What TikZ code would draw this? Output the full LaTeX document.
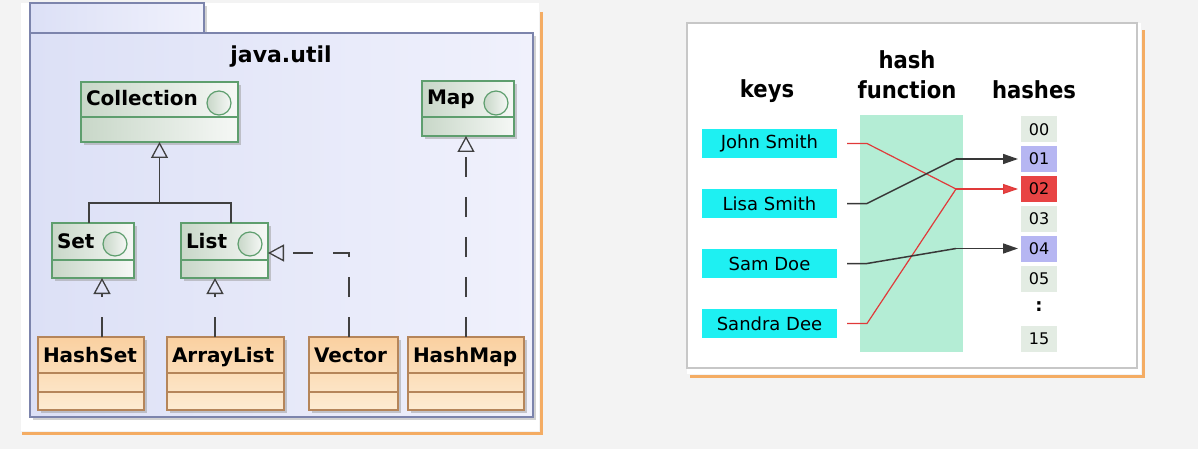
\documentclass[tikz,border=0pt]{standalone}
\usepackage{fontspec}
\setmainfont{DejaVu Sans}
\newfontfamily\hdrfont[FakeStretch=0.9]{DejaVu Sans}
\usetikzlibrary{arrows.meta,shadows,calc}
\definecolor{bgc}{HTML}{F3F3F3}
\definecolor{pkgb}{HTML}{7C84AC}
\definecolor{pkgL}{HTML}{DCE0F6}
\definecolor{pkgR}{HTML}{F0F1FC}
\definecolor{grb}{HTML}{5E9E6E}
\definecolor{grL}{HTML}{C8D7C8}
\definecolor{grR}{HTML}{F6F8F6}
\definecolor{orb}{HTML}{B5855A}
\definecolor{orT}{HTML}{FAD0A0}
\definecolor{orB}{HTML}{FDEBD2}
\definecolor{lnc}{HTML}{404040}
\definecolor{shad}{HTML}{F5A04A}
\definecolor{keyc}{HTML}{1EF0F2}
\definecolor{mint}{HTML}{B4EDD5}
\definecolor{hgray}{HTML}{E3ECE3}
\definecolor{hlav}{HTML}{B6B6F2}
\definecolor{hred}{HTML}{E84444}
\definecolor{rline}{HTML}{E03A3A}
\definecolor{kline}{HTML}{383838}
\begin{document}
\begin{tikzpicture}[x=1pt,y=-1pt,
  every node/.style={outer sep=0pt},
  pkg/.style={draw=pkgb, line width=1.4pt, left color=pkgL, right color=pkgR},
  ibox/.style={draw=grb, line width=1.3pt, left color=grL, right color=grR, inner sep=0pt,
     drop shadow={shadow xshift=3pt, shadow yshift=-3pt, fill=black!40, opacity=0.5}},
  cbox/.style={draw=orb, line width=1.3pt, top color=orT, bottom color=orB, inner sep=0pt,
     minimum height=73pt,
     drop shadow={shadow xshift=3pt, shadow yshift=-3pt, fill=black!40, opacity=0.5}},
  circ/.style={circle, draw=grb, line width=1.2pt, left color=grL, right color=grR,
     minimum size=24pt, inner sep=0pt},
  cls/.style={font=\bfseries\fontsize{20}{22}\selectfont, inner sep=0pt, anchor=base west},
  ttl/.style={font=\bfseries\fontsize{22}{26}\selectfont, inner sep=0pt, anchor=base},
  gen/.style={draw=lnc, line width=1.3pt, -{Triangle[open, length=16pt, width=17pt, line width=1.3pt]}},
  real/.style={gen, dash pattern=on 20pt off 20pt},
  hdr/.style={font=\hdrfont\bfseries\fontsize{23.5}{26}\selectfont, inner sep=0pt, anchor=base},
  key/.style={fill=keyc, minimum width=135pt, minimum height=29pt, inner sep=0pt,
     font=\fontsize{18}{20}\selectfont},
  hb/.style={minimum width=36pt, minimum height=26pt, inner sep=0pt,
     font=\fontsize{16}{18}\selectfont},
  rl/.style={draw=rline, line width=1.2pt},
  kl/.style={draw=kline, line width=1.5pt},
  tip/.style={-{Triangle[length=15pt, width=10pt]}, shorten >=3pt}
]
\useasboundingbox (0,0) rectangle (1198,449);
\fill[bgc] (0,0) rectangle (1198,449);

% ---------- left card ----------
\fill[white] (21,3) rectangle (539,431);
\draw[shad, line width=3pt, opacity=0.85] (541,12) -- (541,433) -- (22,433);

% package
\path[pkg, drop shadow={shadow xshift=3pt, shadow yshift=-3pt, fill=black!35, opacity=0.5}] (30,3) rectangle (204,33);
\path[pkg, drop shadow={shadow xshift=3pt, shadow yshift=-3pt, fill=black!35, opacity=0.5}] (30,33) rectangle (533,417);
\node[ttl] (jt) at (281,63) {java.util};

% interfaces
\node[ibox, minimum width=157pt, minimum height=60pt] (coll) at (159.5,112) {};
\node[ibox, minimum width=92pt, minimum height=55pt] (map) at (468,108.5) {};
\node[ibox, minimum width=82pt, minimum height=55pt] (set) at (93,250.5) {};
\node[ibox, minimum width=87pt, minimum height=55pt] (list) at (224.5,250.5) {};
\draw[grb, line width=1.3pt] ($(coll.north west)+(0,35)$) -- ($(coll.north east)+(0,35)$);
\draw[grb, line width=1.3pt] ($(map.north west)+(0,36)$) -- ($(map.north east)+(0,36)$);
\draw[grb, line width=1.3pt] ($(set.north west)+(0,37)$) -- ($(set.north east)+(0,37)$);
\draw[grb, line width=1.3pt] ($(list.north west)+(0,37)$) -- ($(list.north east)+(0,37)$);
\node[cls] (tcoll) at ($(coll.north west)+(5,24)$) {Collection};
\node[cls] (tmap) at ($(map.north west)+(5,24)$) {Map};
\node[cls] (tset) at ($(set.north west)+(5,25)$) {Set};
\node[cls] (tlist) at ($(list.north west)+(5,25)$) {List};
\node[circ] (ccoll) at ($(coll.north east)+(-19,21)$) {};
\node[circ] (cmap) at ($(map.north east)+(-18,22)$) {};
\node[circ] (cset) at ($(set.north east)+(-19,21)$) {};
\node[circ] (clist) at ($(list.north east)+(-18,21)$) {};

% classes
\node[cbox, minimum width=106pt] (hset) at (91,373.5) {};
\node[cbox, minimum width=117pt] (alist) at (225.5,373.5) {};
\node[cbox, minimum width=89pt] (vec) at (353.5,373.5) {};
\node[cbox, minimum width=116pt] (hmap) at (466,373.5) {};
\foreach \n in {hset,alist,vec,hmap}{
  \draw[orb, line width=1.3pt] ($(\n.north west)+(0,36)$) -- ($(\n.north east)+(0,36)$);
  \draw[orb, line width=1.3pt] ($(\n.north west)+(0,55)$) -- ($(\n.north east)+(0,55)$);
}
\node[cls] (thset) at ($(hset.north west)+(5,25)$) {HashSet};
\node[cls] (talist) at ($(alist.north west)+(5,25)$) {ArrayList};
\node[cls] (tvec) at ($(vec.north west)+(5,25)$) {Vector};
\node[cls] (thmap) at ($(hmap.north west)+(5,25)$) {HashMap};

% connectors
\coordinate (j) at (159.5,203);
\draw[lnc, line width=1.3pt] ([xshift=-4pt]set.north) |- (j) -| ([xshift=6.5pt]list.north);
\draw[gen] (j) -- (coll.south);
\draw[real] ([xshift=11pt]hset.north) -- ([xshift=11pt]hset.north |- set.south);
\draw[real] ([xshift=-10.5pt]alist.north) -- ([xshift=-10.5pt]alist.north |- list.south);
\draw[real] ([xshift=-4.5pt]vec.north) |- ([yshift=-2.5pt]list.east);
\draw[real] (hmap.north) -- (hmap.north |- map.south);

% ---------- right card ----------
\fill[white] (687,23) rectangle (1141,374);
\draw[black!22, line width=1.2pt] (687,23) rectangle (1137,368);
\draw[shad, line width=3pt, opacity=0.85] (1143,30) -- (1143,376) -- (690,376);

\node[hdr] (hkeys) at (767,98) {keys};
\node[hdr] (hfa) at (907,69) {hash};
\node[hdr] (hfb) at (907,99) {function};
\node[hdr] (hhash) at (1034,99) {hashes};

\node[fill=mint, minimum width=103pt, minimum height=237pt, inner sep=0pt] (hf) at (911.5,233.5) {};

\node[key] (k1) at (769.5,143.5) {John Smith};
\node[key] (k2) at (769.5,203.5) {Lisa Smith};
\node[key] (k3) at (769.5,263.5) {Sam Doe};
\node[key] (k4) at (769.5,323.5) {Sandra Dee};

\node[hb, fill=hgray] (h00) at (1039,129.5) {00};
\node[hb, fill=hlav] (h01) at (1039,159) {01};
\node[hb, fill=hred] (h02) at (1039,189) {02};
\node[hb, fill=hgray] (h03) at (1039,218.5) {03};
\node[hb, fill=hlav] (h04) at (1039,248.5) {04};
\node[hb, fill=hgray] (h05) at (1039,278.5) {05};
\node[inner sep=0pt, font=\bfseries\fontsize{18}{20}\selectfont] (hdots) at (1039,307) {:};
\node[hb, fill=hgray] (h15) at (1039,338.5) {15};

\coordinate (b2) at (956,189);
\coordinate (b1) at (956,159);
\coordinate (b4) at (956,248.5);
\draw[rl] ([xshift=10pt]k1.east) -- ++(20,0) -- (b2);
\draw[rl] ([xshift=10pt]k4.east) -- ++(20,0) -- (b2);
\draw[kl] ([xshift=10pt]k2.east) -- ++(20,0) -- (b1);
\draw[kl] ([xshift=10pt]k3.east) -- ++(20,0) -- (b4);
\draw[rl, tip, -{Triangle[length=15pt, width=10pt, fill=hred]}] (b2) -- (h02.west);
\draw[kl, tip] (b1) -- (h01.west);
\draw[kl, tip] (b4) -- (h04.west);
\end{tikzpicture}
\end{document}
